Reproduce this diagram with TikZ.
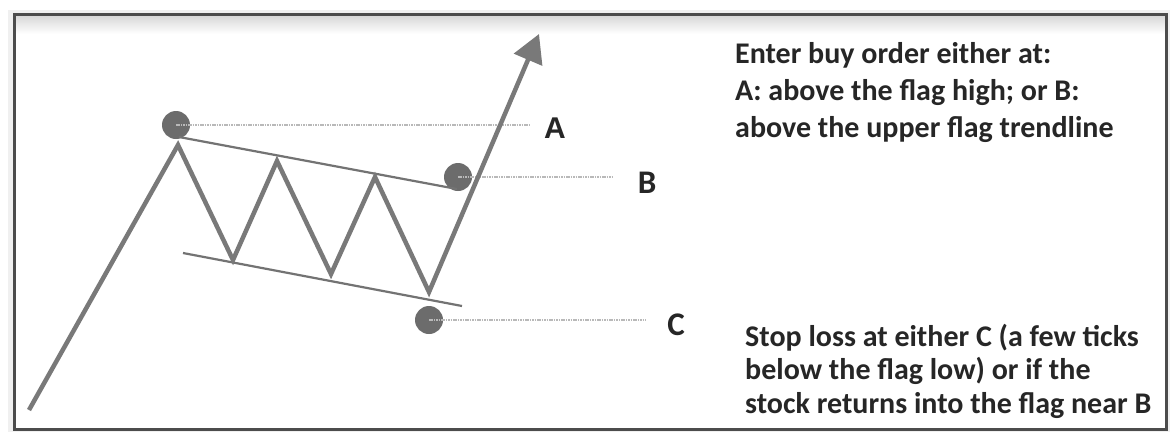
\documentclass[tikz,border=0pt]{standalone}
\usepackage{fontspec}
\setmainfont{Carlito}
\newfontfamily\arialfont{Liberation Sans}
\usetikzlibrary{arrows.meta}
\tikzset{
  price/.style={draw=gray!95!black, line width=4.5pt, line join=miter},
  trend/.style={draw=gray!90!black, line width=2.2pt},
  level/.style={draw=gray!55, line width=2.8pt, dash pattern=on 1.5pt off 0.9pt},
  dot/.style={circle, fill=gray!85!black, minimum size=28pt, inner sep=0pt},
  lbl/.style={font=\fontsize{33}{34}\selectfont\bfseries, text=black!85, inner sep=0pt},
  note/.style={font=\fontsize{30}{37}\selectfont\bfseries, text=black!85, align=left, inner sep=0pt, anchor=north west},
}
\begin{document}
\begin{tikzpicture}[x=1pt,y=-1pt]
\useasboundingbox (0,0) rectangle (1170,432);
\fill[white] (0,0) rectangle (1170,432);
% frame with soft shadow
\fill[gray!12] (8,10) rectangle (1170,432);
\fill[white] (14,14) rectangle (1166,429);
\shade[top color=gray!30, bottom color=white] (15,16) rectangle (1165,34);
\draw[draw=black!70, line width=3pt] (14,14) rectangle (1166,429);
% levels
\node[dot] (pA) at (176,125) {};
\node[dot] (pB) at (458,177) {};
\node[dot] (pC) at (429,320) {};
\coordinate (eA) at (530,125);
\coordinate (eB) at (613,177);
\coordinate (eC) at (646,320);
\draw[level] (pA.center) -- (eA);
\draw[level] (pB.center) -- (eB);
\draw[level] (pC.center) -- (eC);
% trendlines
\coordinate (u1) at (179,137);
\coordinate (u2) at (457,189);
\coordinate (l1) at (183,253);
\coordinate (l2) at (462,306);
\draw[trend] (u1) -- (u2);
\draw[trend] (l1) -- (l2);
% price path
\coordinate (s) at (29,410);
\coordinate (p1) at (178,145);
\coordinate (t1) at (233,260);
\coordinate (p2) at (277,161);
\coordinate (t2) at (331,274);
\coordinate (p3) at (375,177);
\coordinate (t3) at (429,292);
\coordinate (tip) at (539,34);
\draw[price, -{Triangle[length=28pt,width=30pt]}] (s) -- (p1) -- (t1) -- (p2) -- (t2) -- (p3) -- (t3) -- (tip);
% labels
\node[lbl, font=\fontsize{30}{32}\selectfont\bfseries\arialfont] (A) at (555,128) {A};
\node[lbl] (B) at (647,183) {B};
\node[lbl] (C) at (676,325) {C};
\node[note] (buy) at (735,42) {Enter buy order either at:\\A: above the flag high; or B:\\above the upper flag trendline};
\node[note, font=\fontsize{30}{33.5}\selectfont\bfseries] (stop) at (745,324) {Stop loss at either C (a few ticks\\below the flag low) or if the\\stock returns into the flag near B};
\end{tikzpicture}
\end{document}
